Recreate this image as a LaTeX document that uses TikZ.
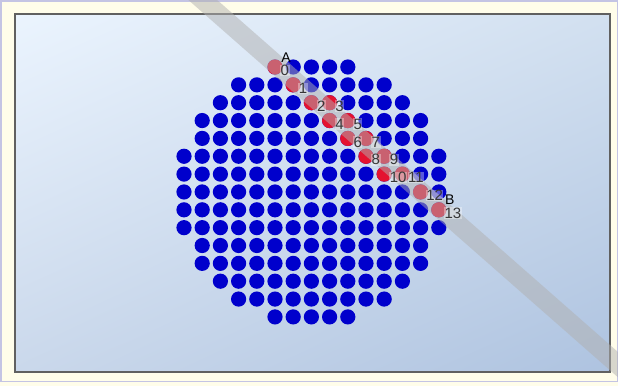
\documentclass[tikz,border=0pt]{standalone}
\usepackage{fontspec}
\setmainfont{Liberation Sans}
\usetikzlibrary{calc,shadings}

\definecolor{dotblue}{RGB}{0,0,204}
\definecolor{hitred}{RGB}{228,18,48}
\definecolor{labelgray}{RGB}{55,55,55}
\definecolor{bandgray}{RGB}{176,176,176}
\definecolor{margincream}{RGB}{255,253,234}
\definecolor{outerline}{RGB}{196,196,228}
\definecolor{frameline}{RGB}{96,96,96}
\definecolor{bgUL}{RGB}{235,244,254}
\definecolor{bgUR}{RGB}{210,224,240}
\definecolor{bgLL}{RGB}{202,216,235}
\definecolor{bgLR}{RGB}{174,195,224}

\begin{document}
\begin{tikzpicture}[x=1pt,y=-1pt,
  numlabel/.style={anchor=west,inner sep=0.5pt,fill=white,fill opacity=0.35,
    text opacity=1,text=labelgray,font=\fontsize{15}{15}\selectfont},
  endlabel/.style={inner sep=0pt,font=\fontsize{14}{14}\selectfont},
  scanband/.style={line width=19pt,draw=bandgray,draw opacity=0.5}]
  \useasboundingbox (0,0) rectangle (618,386);
  \clip (0,0) rectangle (618,386);

  % 外枠
  \fill[margincream] (0,0) rectangle (618,386);
  \draw[outerline,line width=1.5pt] (0.75,0.75) rectangle (617.25,381.25);

  % 内側のパネル（グラデーション）
  \shade[upper left=bgUL,upper right=bgUR,lower left=bgLL,lower right=bgLR]
    (15,14) rectangle (610,372);
  \draw[frameline,line width=1.5pt] (15,14) rectangle (610,372);

  % 円形に並んだ青い点
  \foreach \r in {0,...,14}
    \foreach \c in {0,...,14} {
      \pgfmathtruncatemacro\dd{(\c-7)*(\c-7)+(\r-7)*(\r-7)}
      \ifnum\dd<56
        \fill[dotblue] (184+18.2*\c,67+17.85*\r) circle (7.6);
      \fi
    }

  % AからBまでの赤い点
  \foreach \i/\c/\r in {0/5/0,1/6/1,2/7/2,3/8/2,4/8/3,5/9/3,6/9/4,
      7/10/4,8/10/5,9/11/5,10/11/6,11/12/6,12/13/7,13/14/8} {
    \coordinate (p\i) at (184+18.2*\c,67+17.85*\r);
    \fill[hitred] (p\i) circle (7.6);
  }

  % 灰色の帯
  \coordinate (bandS) at (180,-20);
  \coordinate (bandE) at (681,420);
  \draw[scanband] (bandS) -- (bandE);

  % 番号とA, B
  \foreach \i in {0,...,13}
    \node[numlabel] (n\i) at ($(p\i)+(5,3.5)$) {\i};
  \node[endlabel] (A) at ($(p0)+(11,-9.5)$) {A};
  \node[endlabel] (B) at ($(p13)+(11,-10.5)$) {B};
\end{tikzpicture}
\end{document}
